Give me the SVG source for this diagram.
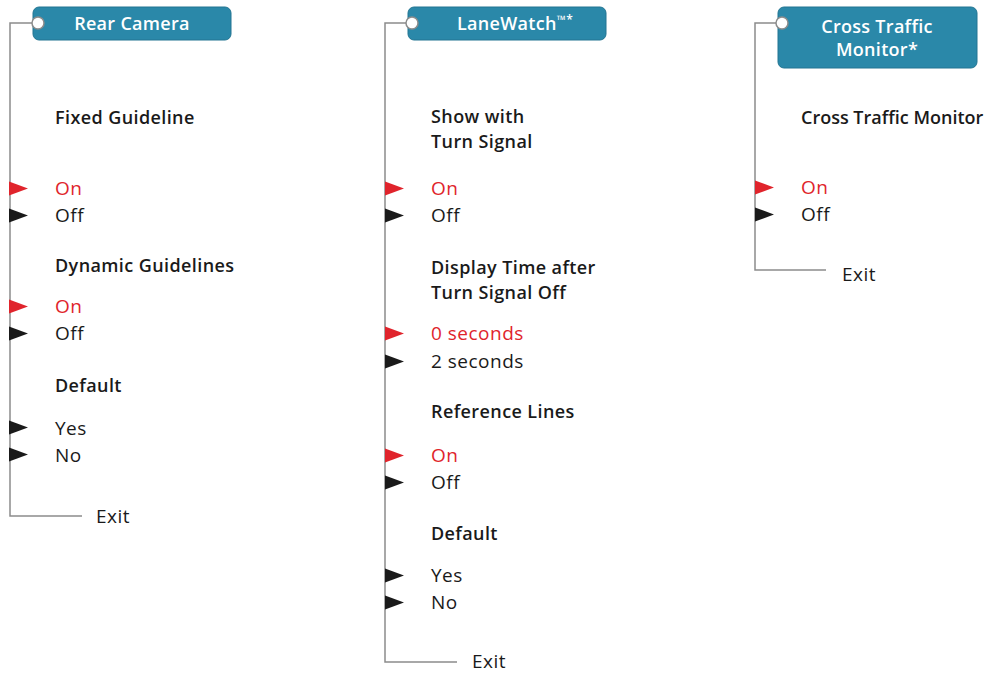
<svg xmlns="http://www.w3.org/2000/svg" width="986" height="675" viewBox="0 0 986 675">
<style>
.box{fill:#2a88a9;stroke:#227592;stroke-width:1}
.bt{font-family:"Open Sans","Liberation Sans",sans-serif;font-size:18px;font-weight:600;letter-spacing:0.3px;fill:#ffffff;text-anchor:middle}
.h{font-family:"Open Sans","Liberation Sans",sans-serif;font-size:18px;font-weight:600;letter-spacing:0.4px;fill:#1a1a1a}
.t{font-family:"Open Sans","Liberation Sans",sans-serif;font-size:19px;font-weight:400;letter-spacing:0.5px;fill:#1a1a1a}
.r{fill:#e0242c}
.tri{fill:#1a1a1a}
.tr{fill:#e0242c}
.ln{fill:none;stroke:#8c8c8c;stroke-width:1.5}
.dot{fill:#ffffff;stroke:#8c8c8c;stroke-width:1.5}
</style>
<g id="connectors">
<path class="ln" d="M32 23 H10 V516 H82"/>
<path class="ln" d="M406 23 H385 V662 H457"/>
<path class="ln" d="M776 23 H755 V270 H826"/>
</g>
<g id="rear-camera">
<rect class="box" x="33" y="7" width="198" height="33" rx="6"/>
<circle class="dot" cx="38" cy="23" r="6"/>
<text class="bt" x="132" y="30">Rear Camera</text>
</g>
<g id="rear-items">
<text class="h" x="55" y="124">Fixed Guideline</text>
<polygon class="tr" points="9,181.5 28,188.5 9,195.5"/>
<text class="t r" x="55" y="195">On</text>
<polygon class="tri" points="9,208.5 28,215.5 9,222.5"/>
<text class="t" x="55" y="222">Off</text>
<text class="h" x="55" y="272">Dynamic Guidelines</text>
<polygon class="tr" points="9,299.5 28,306.5 9,313.5"/>
<text class="t r" x="55" y="313">On</text>
<polygon class="tri" points="9,326.5 28,333.5 9,340.5"/>
<text class="t" x="55" y="340">Off</text>
<text class="h" x="55" y="392">Default</text>
<polygon class="tri" points="9,420.5 28,427.5 9,434.5"/>
<text class="t" x="55" y="435">Yes</text>
<polygon class="tri" points="9,447.5 28,454.5 9,461.5"/>
<text class="t" x="55" y="462">No</text>
<text class="t" x="96" y="523">Exit</text>
</g>
<g id="lanewatch">
<rect class="box" x="408" y="7" width="198" height="33" rx="6"/>
<circle class="dot" cx="412" cy="23" r="6"/>
<text class="bt" x="457" y="30" style="text-anchor:start">LaneWatch<tspan font-size="12" dy="-6">™*</tspan></text>
</g>
<g id="lanewatch-items">
<text class="h" x="431" y="123">Show with</text>
<text class="h" x="431" y="148">Turn Signal</text>
<polygon class="tr" points="385,181.5 404,188.5 385,195.5"/>
<text class="t r" x="431" y="195">On</text>
<polygon class="tri" points="385,208.5 404,215.5 385,222.5"/>
<text class="t" x="431" y="222">Off</text>
<text class="h" x="431" y="274">Display Time after</text>
<text class="h" x="431" y="299">Turn Signal Off</text>
<polygon class="tr" points="385,326.5 404,333.5 385,340.5"/>
<text class="t r" x="431" y="340">0 seconds</text>
<polygon class="tri" points="385,354.5 404,361.5 385,368.5"/>
<text class="t" x="431" y="368">2 seconds</text>
<text class="h" x="431" y="418">Reference Lines</text>
<polygon class="tr" points="385,448.5 404,455.5 385,462.5"/>
<text class="t r" x="431" y="462">On</text>
<polygon class="tri" points="385,475.5 404,482.5 385,489.5"/>
<text class="t" x="431" y="489">Off</text>
<text class="h" x="431" y="540">Default</text>
<polygon class="tri" points="385,568.5 404,575.5 385,582.5"/>
<text class="t" x="431" y="582">Yes</text>
<polygon class="tri" points="385,595.5 404,602.5 385,609.5"/>
<text class="t" x="431" y="609">No</text>
<text class="t" x="472" y="668">Exit</text>
</g>
<g id="cross-traffic">
<rect class="box" x="778" y="7" width="199" height="61" rx="6"/>
<circle class="dot" cx="782" cy="23" r="6"/>
<text class="bt" x="877" y="33">Cross Traffic</text>
<text class="bt" x="877" y="56">Monitor*</text>
</g>
<g id="cross-items">
<text class="h" x="801" y="124" style="letter-spacing:0">Cross Traffic Monitor</text>
<polygon class="tr" points="755,180.5 774,187.5 755,194.5"/>
<text class="t r" x="801" y="194">On</text>
<polygon class="tri" points="755,207.5 774,214.5 755,221.5"/>
<text class="t" x="801" y="221">Off</text>
<text class="t" x="842" y="281">Exit</text>
</g>
</svg>
